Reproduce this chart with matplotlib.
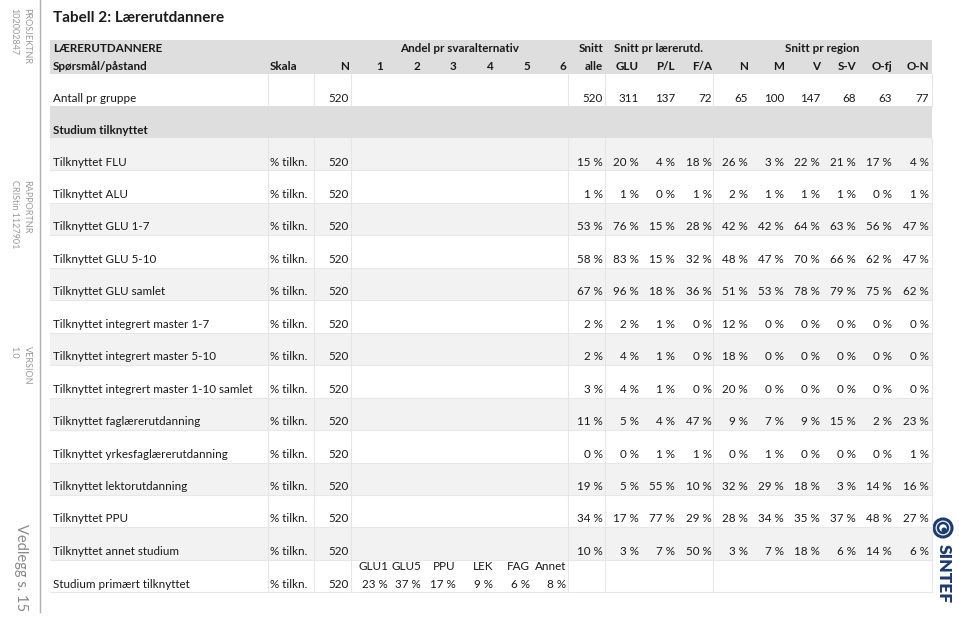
import matplotlib.pyplot as plt
from matplotlib.patches import Rectangle, Circle

plt.rcParams['font.family'] = ['Lato', 'DejaVu Sans']

# data
questions = ['Tilknyttet FLU', 'Tilknyttet ALU', 'Tilknyttet GLU 1-7', 'Tilknyttet GLU 5-10',
             'Tilknyttet GLU samlet', 'Tilknyttet integrert master 1-7',
             'Tilknyttet integrert master 5-10', 'Tilknyttet integrert master 1-10 samlet',
             'Tilknyttet faglærerutdanning', 'Tilknyttet yrkesfaglærerutdanning',
             'Tilknyttet lektorutdanning', 'Tilknyttet PPU', 'Tilknyttet annet studium']
n_resp = 520
value_cols = ['alle', 'GLU', 'P/L', 'F/A', 'N', 'M', 'V', 'S-V', 'O-fj', 'O-N']
antall = [520, 311, 137, 72, 65, 100, 147, 68, 63, 77]
values = [
    [15, 20, 4, 18, 26, 3, 22, 21, 17, 4],
    [1, 1, 0, 1, 2, 1, 1, 1, 0, 1],
    [53, 76, 15, 28, 42, 42, 64, 63, 56, 47],
    [58, 83, 15, 32, 48, 47, 70, 66, 62, 47],
    [67, 96, 18, 36, 51, 53, 78, 79, 75, 62],
    [2, 2, 1, 0, 12, 0, 0, 0, 0, 0],
    [2, 4, 1, 0, 18, 0, 0, 0, 0, 0],
    [3, 4, 1, 0, 20, 0, 0, 0, 0, 0],
    [11, 5, 4, 47, 9, 7, 9, 15, 2, 23],
    [0, 0, 1, 1, 0, 1, 0, 0, 0, 1],
    [19, 5, 55, 10, 32, 29, 18, 3, 14, 16],
    [34, 17, 77, 29, 28, 34, 35, 37, 48, 27],
    [10, 3, 7, 50, 3, 7, 18, 6, 14, 6],
]
prim_labels = ['GLU1', 'GLU5', 'PPU', 'LEK', 'FAG', 'Annet']
prim_values = [23, 37, 17, 9, 6, 8]
alt_labels = ['1', '2', '3', '4', '5', '6']

# layout (pixel coordinates)
fig = plt.figure(figsize=(9.59, 6.19), dpi=100)
ax = fig.add_axes([0, 0, 1, 1])
ax.set_xlim(0, 959)
ax.set_ylim(619, 0)
ax.axis('off')

TXT = '#1a1a1a'
FS = 8.4
x_left, x_right = 50, 932
x_q = 53
x_skala = 270
x_n = 349
x_alt = [388, 421, 456, 493, 530, 566]
x_hdr = [383, 420, 456, 494, 530, 566]
x_val = [603, 639, 675, 712, 748, 784, 820, 856, 892, 929]
vlines = [268, 314, 351, 568, 605, 713, 932]

row_h = 32.45
row_top0 = 138


def pct(v):
    return f'{v} %'


# header band
ax.add_patch(Rectangle((x_left, 40), x_right - x_left, 34, color='#dedede', lw=0))
ax.add_patch(Rectangle((x_left, 106), x_right - x_left, 32, color='#dedede', lw=0))
for i in range(len(questions) + 1):
    top = row_top0 + i * row_h
    if i % 2 == 0 and i < len(questions):
        ax.add_patch(Rectangle((x_left, top), x_right - x_left, row_h, color='#f2f2f2', lw=0))
    ax.plot([x_left, x_right], [top + row_h, top + row_h], color='#e8e8e8', lw=0.8)
for xv in vlines:
    ax.plot([xv, xv], [74, 106], color='#e6e6e6', lw=0.8)
    ax.plot([xv, xv], [138, row_top0 + (len(questions) + 1) * row_h], color='#e6e6e6', lw=0.8)

# title
ax.text(x_q, 18, 'Tabell 2: Lærerutdannere', fontsize=11, fontweight='bold', color=TXT, va='center')

# header text
hb = dict(fontsize=FS, fontweight='bold', color=TXT, va='center')
ax.text(x_q, 48, 'LÆRERUTDANNERE', ha='left', **hb)
ax.text(459, 48, 'Andel pr svaralternativ', ha='center', **hb)
ax.text(x_val[0], 48, 'Snitt', ha='right', **hb)
ax.text(659, 48, 'Snitt pr lærerutd.', ha='center', **hb)
ax.text(822, 48, 'Snitt pr region', ha='center', **hb)
ax.text(x_q, 67, 'Spørsmål/påstand', ha='left', **hb)
ax.text(x_skala, 67, 'Skala', ha='left', **hb)
ax.text(x_n, 67, 'N', ha='right', **hb)
for x, lab in zip(x_hdr, alt_labels):
    ax.text(x, 67, lab, ha='right', **hb)
for x, lab in zip(x_val, value_cols):
    ax.text(x, 67, lab, ha='right', **hb)

# antall row
tn = dict(fontsize=FS, color=TXT, va='center')
ax.text(x_q, 98, 'Antall pr gruppe', ha='left', **tn)
ax.text(x_n, 98, str(n_resp), ha='right', **tn)
for x, v in zip(x_val, antall):
    ax.text(x, 98, str(v), ha='right', **tn)
ax.text(x_q, 130, 'Studium tilknyttet', ha='left', fontsize=FS, fontweight='bold', color=TXT, va='center')

# body rows
for i, (q, vals) in enumerate(zip(questions, values)):
    y = row_top0 + i * row_h + 24
    ax.text(x_q, y, q, ha='left', **tn)
    ax.text(x_skala, y, '% tilkn.', ha='left', **tn)
    ax.text(x_n, y, str(n_resp), ha='right', **tn)
    for x, v in zip(x_val, vals):
        ax.text(x, y, pct(v), ha='right', **tn)

# primary study row
y = row_top0 + len(questions) * row_h + 25
ax.text(x_q, y, 'Studium primært tilknyttet', ha='left', **tn)
ax.text(x_skala, y, '% tilkn.', ha='left', **tn)
ax.text(x_n, y, str(n_resp), ha='right', **tn)
for x, lab, v in zip(x_alt, prim_labels, prim_values):
    ax.text(x, y - 18, lab, ha='right', **tn)
    ax.text(x, y, pct(v), ha='right', **tn)

# left margin
ax.plot([40, 40], [0, 612], color='#b0b0b0', lw=1)
mg = dict(fontsize=6.5, color='#9a9a9a', rotation=-90, va='top', ha='center')
ax.text(27, 8, 'PROSJEKTNR', **mg)
ax.text(14, 8, '102002847', **mg)
ax.text(27, 180, 'RAPPORTNR', **mg)
ax.text(14, 180, 'CRIStin 1127901', **mg)
ax.text(27, 346, 'VERSION', **mg)
ax.text(14, 346, '1.0', **mg)
ax.text(21, 524, 'Vedlegg s. 15', fontsize=10.5, color='#8a8a8a', rotation=-90, va='top', ha='center')

# SINTEF logo
blue = '#1d3c6e'
ax.add_patch(Circle((943, 528), 9, fill=False, ec=blue, lw=2.2))
ax.add_patch(Circle((943, 528), 5, fill=False, ec=blue, lw=1.8))
ax.add_patch(Circle((944, 530), 2.5, color=blue, lw=0))
ax.text(944, 544, 'SINTEF', fontsize=12.5, fontweight='heavy', color=blue, rotation=-90, va='top', ha='center')

fig.savefig('out.png', dpi=100)
